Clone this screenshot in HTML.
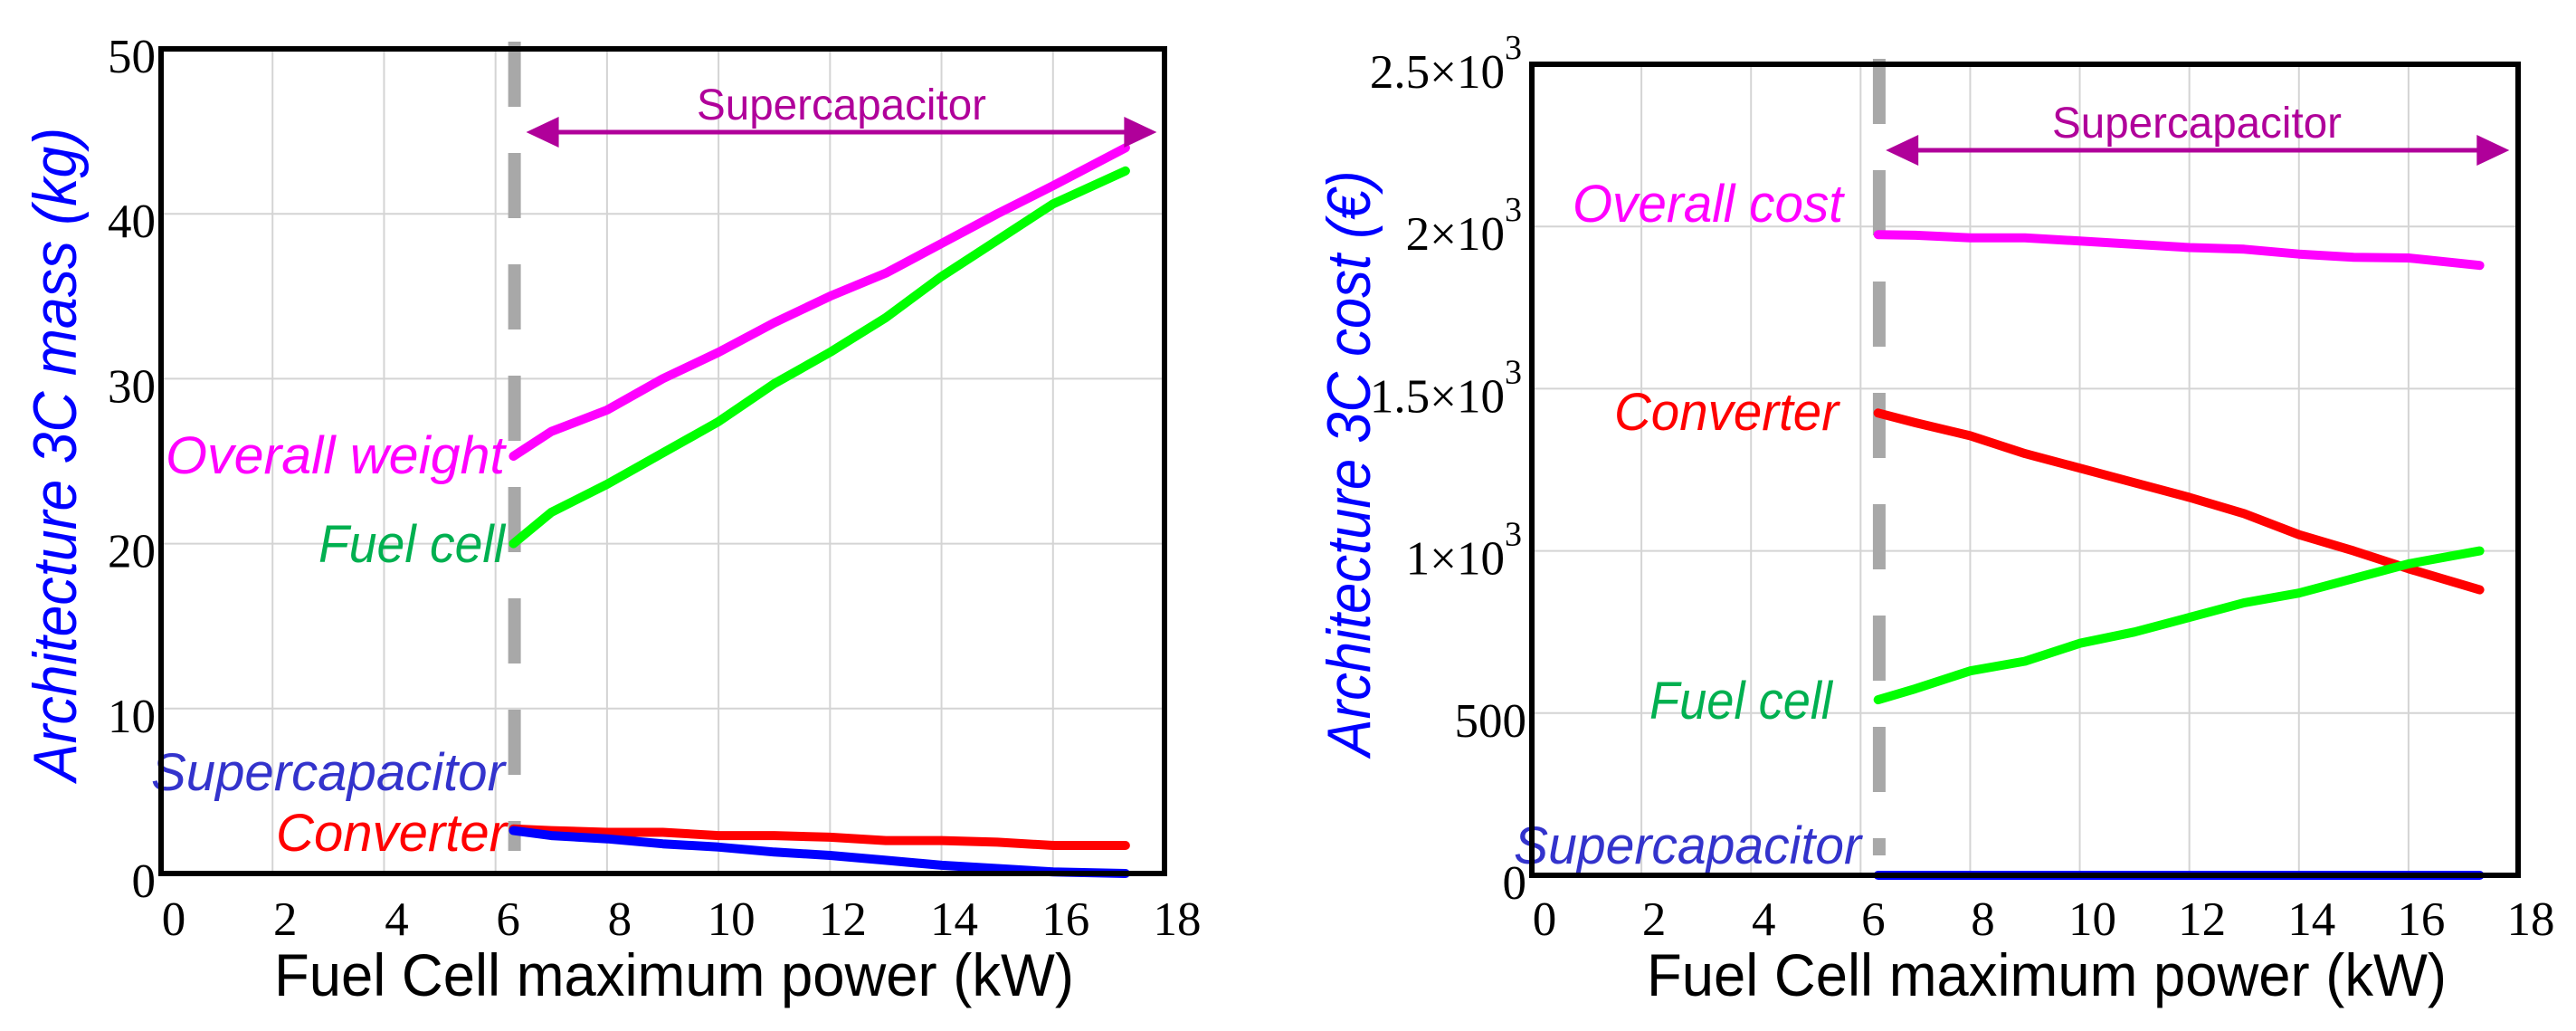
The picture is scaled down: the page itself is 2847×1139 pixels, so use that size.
<!DOCTYPE html>
<html><head><meta charset="utf-8"><style>
html,body{margin:0;padding:0;background:#fff}
svg{display:block}
text{font-family:"Liberation Sans",sans-serif}
.tick{font-family:"Liberation Serif",serif;font-size:53px;fill:#000}
.sup{font-family:"Liberation Serif",serif;font-size:38px;fill:#000}
</style></head><body>
<svg id="svg" width="2847" height="1139" viewBox="0 0 2847 1139" xmlns="http://www.w3.org/2000/svg">
<g id="left"></g>
<g id="right"></g>
</svg>
<script>
// shared x data (kW)
const powerKW = [6.32, 7, 8, 9, 10, 11, 12, 13, 14, 15, 16, 17.3];
// mass chart (kg)
const massTicks = [0, 10, 20, 30, 40, 50];
const massOverall = [25.3, 26.8, 28.1, 30.0, 31.6, 33.4, 35.0, 36.4, 38.2, 40.0, 41.7, 44.0];
const massFuelCell = [20.0, 21.9, 23.6, 25.5, 27.4, 29.7, 31.6, 33.7, 36.2, 38.4, 40.6, 42.6];
const massConverter = [2.7, 2.6, 2.5, 2.5, 2.3, 2.3, 2.2, 2.0, 2.0, 1.9, 1.7, 1.7];
const massSupercap = [2.6, 2.3, 2.1, 1.8, 1.6, 1.3, 1.1, 0.8, 0.5, 0.3, 0.1, 0.0];
// cost chart (€)
const costTicks = [0, 500, 1000, 1500, 2000, 2500];
const costTickLabels = ["0", "500", "1×10", "1.5×10", "2×10", "2.5×10"];
const costOverall = [1975, 1973, 1965, 1965, 1955, 1945, 1935, 1930, 1915, 1905, 1903, 1880];
const costConverter = [1425, 1395, 1355, 1300, 1255, 1210, 1165, 1115, 1050, 1000, 945, 880];
const costFuelCell = [541, 575, 630, 660, 715, 750, 795, 840, 870, 915, 960, 1000];
const costSupercap = [0, 0, 0, 0, 0, 0, 0, 0, 0, 0, 0, 0];
const xTicks = [0, 2, 4, 6, 8, 10, 12, 14, 16, 18];
const dividerKW = 6.34;

const NS = "http://www.w3.org/2000/svg";
function mk(parent, tag, attrs, txt) {
  const e = document.createElementNS(NS, tag);
  for (const k in attrs) e.setAttribute(k, attrs[k]);
  if (txt !== undefined) e.textContent = txt;
  parent.appendChild(e);
  return e;
}

function drawChart(g, cfg) {
  const X = v => cfg.x0 + (v - 0) / 18 * (cfg.x1 - cfg.x0);
  const Y = v => cfg.y0 - v / cfg.ymax * (cfg.y0 - cfg.y1);
  xTicks.forEach((t, i) => {
    if (t > 0 && t < 18) {
      const l = mk(g, "line", {x1: X(t), x2: X(t), y1: cfg.y1, y2: cfg.y0, stroke: "#d4d4d4", "stroke-width": 2});
      
      
    }
    const tx = mk(g, "text", {x: X(t) + 14, y: 1033, "text-anchor": "middle", class: "tick"}, String(t));
    
    
  });
  cfg.ticks.forEach((t, i) => {
    if (t > 0 && t < cfg.ymax) {
      const l = mk(g, "line", {x1: cfg.x0, x2: cfg.x1, y1: Y(t), y2: Y(t), stroke: "#d4d4d4", "stroke-width": 2});
      
      
    }
    const lab = cfg.labels ? cfg.labels[i] : String(t);
    const hasSup = lab.indexOf("×") >= 0;
    const tx = mk(g, "text", {x: hasSup ? cfg.x0 - 30 : cfg.x0 - 6, y: Y(t) + 26, "text-anchor": "end", class: "tick"}, lab);
    
    
    if (hasSup) {
      const s = mk(g, "text", {x: cfg.x0 - 30, y: Y(t) - 6, class: "sup"}, "3");
      
      
    }
  });
  const dv = mk(g, "line", {x1: X(dividerKW), x2: X(dividerKW), y1: cfg.dashTop, y2: cfg.dashBot, stroke: "#a8a8a8", "stroke-width": 14, "stroke-dasharray": "72 51"});
  
  
  cfg.series.forEach(s => {
    const d = powerKW.map((p, i) => (i ? "L" : "M") + X(p).toFixed(1) + " " + Y(s.data[i]).toFixed(1)).join(" ");
    const p = mk(g, "path", {d: d, fill: "none", stroke: s.color, "stroke-width": 10, "stroke-linejoin": "round", "stroke-linecap": "round"});
    
    
  });
  cfg.lbls.forEach(l => {
    const t = mk(g, "text", {x: l.x, y: l.y, fill: l.color, "font-size": 58, "font-style": "italic", textLength: l.w, lengthAdjust: "spacingAndGlyphs"}, l.t);
    
    
  });
  const ay = cfg.arrowY, ax0 = X(cfg.arrowFrom), ax1 = X(cfg.arrowTo);
  const ar = mk(g, "line", {x1: ax0 + 30, x2: ax1 - 30, y1: ay, y2: ay, stroke: "#b0009a", "stroke-width": 5});
  
  
  const h1 = mk(g, "polygon", {points: `${ax0},${ay} ${ax0+36},${ay-17} ${ax0+36},${ay+17}`, fill: "#b0009a"});
  
  
  const h2 = mk(g, "polygon", {points: `${ax1},${ay} ${ax1-36},${ay-17} ${ax1-36},${ay+17}`, fill: "#b0009a"});
  
  
  const at = mk(g, "text", {x: cfg.arrowLabelX, y: ay - 14, fill: "#b0009a", "font-size": 48, "text-anchor": "middle", textLength: 320, lengthAdjust: "spacingAndGlyphs"}, "Supercapacitor");
  
  
  const fr = mk(g, "rect", {x: cfg.x0, y: cfg.y1, width: cfg.x1 - cfg.x0, height: cfg.y0 - cfg.y1, fill: "none", stroke: "#000", "stroke-width": 6});
  
  
  const xt = mk(g, "text", {x: cfg.xtX, y: 1100, "font-size": 66, fill: "#000", textLength: 884, lengthAdjust: "spacingAndGlyphs"}, "Fuel Cell maximum power (kW)");
  
  
  const yt = mk(g, "text", {x: 0, y: 0, "font-size": 68, "font-style": "italic", fill: "#0000ff", "text-anchor": "middle", textLength: cfg.ytLen, lengthAdjust: "spacingAndGlyphs", transform: `translate(${cfg.ytX},${cfg.ytY}) rotate(-90)`}, cfg.ytText);
  
  
}

drawChart(document.getElementById("left"), {
  x0: 178, x1: 1287, y0: 965, y1: 54, ymax: 50, ticks: massTicks,
  dashTop: 46, dashBot: 940,
  series: [
    {name: "overall-weight", color: "#ff00ff", data: massOverall},
    {name: "fuel-cell", color: "#00ff00", data: massFuelCell},
    {name: "converter", color: "#ff0000", data: massConverter},
    {name: "supercapacitor", color: "#0000ff", data: massSupercap}
  ],
  lbls: [
    {t: "Overall weight", x: 183, y: 523, w: 375, color: "#ff00ff", name: "overall-weight-label"},
    {t: "Fuel cell", x: 352, y: 621, w: 206, color: "#00b050", name: "fuel-cell-label"},
    {t: "Supercapacitor", x: 167, y: 873, w: 391, color: "#3333cc", name: "supercapacitor-label"},
    {t: "Converter", x: 305, y: 940, w: 255, color: "#ff0000", name: "converter-label"}
  ],
  arrowY: 146, arrowFrom: 6.55, arrowTo: 17.86, arrowLabelX: 930,
  xtX: 303, ytX: 84, ytY: 502, ytLen: 722, ytText: "Architecture 3C mass (kg)"
});

drawChart(document.getElementById("right"), {
  x0: 1693, x1: 2783, y0: 967, y1: 71, ymax: 2500, ticks: costTicks, labels: costTickLabels,
  dashTop: 65, dashBot: 945,
  series: [
    {name: "overall-cost", color: "#ff00ff", data: costOverall},
    {name: "converter", color: "#ff0000", data: costConverter},
    {name: "fuel-cell", color: "#00ff00", data: costFuelCell},
    {name: "supercapacitor", color: "#0000ff", data: costSupercap}
  ],
  lbls: [
    {t: "Overall cost", x: 1738, y: 245, w: 299, color: "#ff00ff", name: "overall-cost-label"},
    {t: "Converter", x: 1784, y: 475, w: 248, color: "#ff0000", name: "converter-label"},
    {t: "Fuel cell", x: 1823, y: 794, w: 202, color: "#00b050", name: "fuel-cell-label"},
    {t: "Supercapacitor", x: 1673, y: 954, w: 384, color: "#3333cc", name: "supercapacitor-label"}
  ],
  arrowY: 166, arrowFrom: 6.46, arrowTo: 17.84, arrowLabelX: 2428,
  xtX: 1820, ytX: 1514, ytY: 512, ytLen: 647, ytText: "Architecture 3C cost (€)"
});
</script>
</body></html>
